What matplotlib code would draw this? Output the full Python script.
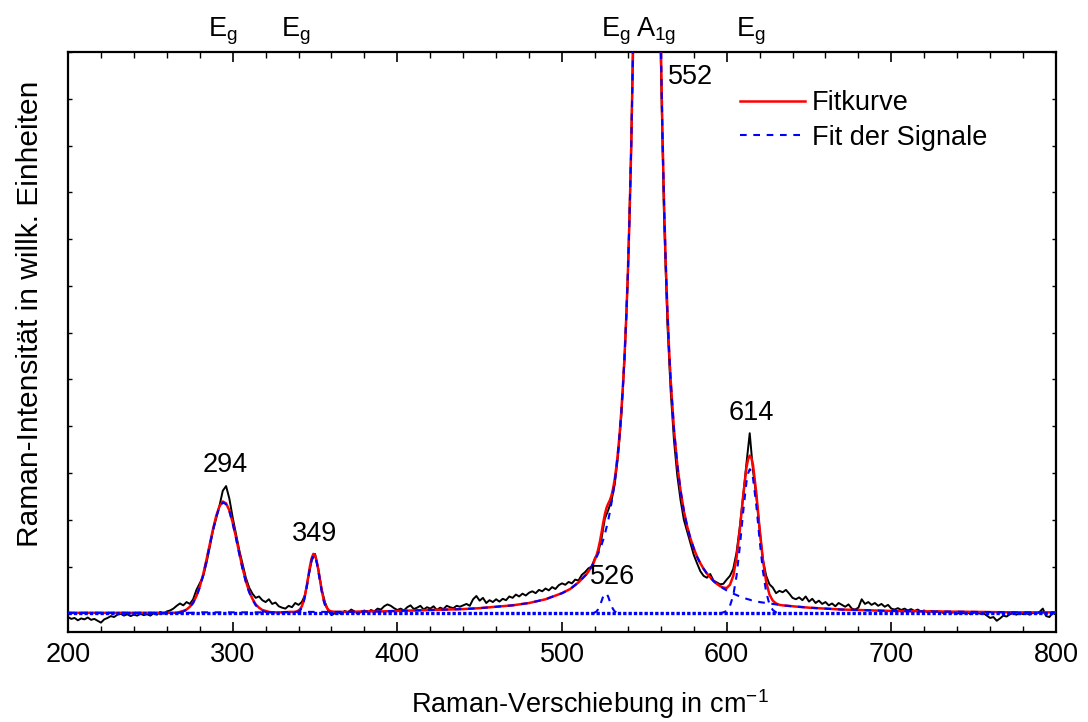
import numpy as np
import matplotlib
matplotlib.use('Agg')
import matplotlib.pyplot as plt
from matplotlib.lines import Line2D
from matplotlib.ticker import MultipleLocator, NullFormatter

plt.rcParams['font.family'] = ['Liberation Sans', 'DejaVu Sans']
plt.rcParams['mathtext.fontset'] = 'custom'
plt.rcParams['mathtext.rm'] = 'Liberation Sans'
plt.rcParams['mathtext.it'] = 'Liberation Sans:italic'

# measured spectrum, 2 cm^-1 steps from 200 to 800
meas_x = np.arange(200, 801, 2)
meas_y = [
    -0.08, -0.12, -0.10, -0.15, -0.11, -0.13, -0.09, -0.14, -0.12, -0.16,
    -0.20, -0.13, -0.10, -0.06, -0.08, -0.03, -0.01, -0.05, -0.02, -0.06,
    -0.03, -0.05, -0.01, -0.04, -0.02, -0.05, 0.00, -0.03, 0.03, -0.01,
    0.04, 0.06, 0.10, 0.16, 0.21, 0.17, 0.24, 0.20, 0.30, 0.50,
    0.64, 0.78, 1.06, 1.40, 1.76, 2.03, 2.30, 2.62, 2.72, 2.45,
    2.05, 1.70, 1.35, 1.05, 0.76, 0.55, 0.42, 0.33, 0.36, 0.28,
    0.24, 0.30, 0.20, 0.23, 0.15, 0.12, 0.10, 0.16, 0.13, 0.22,
    0.18, 0.24, 0.40, 0.78, 1.13, 1.27, 0.95, 0.52, 0.24, 0.06,
    -0.04, 0.00, 0.03, -0.02, 0.05, 0.02, 0.08, 0.04, -0.01, 0.03,
    0.06, 0.02, 0.07, 0.04, 0.10, 0.08, 0.15, 0.19, 0.16, 0.11,
    0.07, 0.10, 0.06, 0.13, 0.17, 0.09, 0.12, 0.16, 0.08, 0.13,
    0.10, 0.15, 0.07, 0.12, 0.09, 0.16, 0.13, 0.11, 0.16, 0.14,
    0.17, 0.20, 0.16, 0.30, 0.37, 0.27, 0.33, 0.22, 0.28, 0.24,
    0.30, 0.25, 0.31, 0.28, 0.36, 0.33, 0.40, 0.36, 0.42, 0.38,
    0.44, 0.47, 0.43, 0.50, 0.47, 0.53, 0.49, 0.56, 0.52, 0.60,
    0.64, 0.61, 0.67, 0.64, 0.72, 0.70, 0.82, 0.88, 0.96, 1.00,
    1.18, 1.30, 1.60, 2.02, 2.20, 2.40, 2.75, 3.35, 4.20, 5.45,
    7.20, 9.90, 14.0, 20.5, 30.0, 42.0, 47.0, 38.0, 26.0, 17.0,
    11.8, 8.4, 6.2, 4.75, 3.70, 2.95, 2.42, 2.00, 1.75, 1.50,
    1.25, 1.07, 0.90, 0.80, 0.76, 0.84, 0.70, 0.66, 0.62, 0.63,
    0.72, 0.80, 0.95, 1.30, 1.85, 2.50, 3.20, 3.85, 3.05, 2.50,
    1.80, 1.15, 0.80, 0.62, 0.55, 0.43, 0.48, 0.45, 0.50, 0.42,
    0.33, 0.30, 0.34, 0.28, 0.36, 0.25, 0.31, 0.22, 0.27, 0.20,
    0.24, 0.17, 0.21, 0.15, 0.22, 0.18, 0.14, 0.19, 0.10, 0.08,
    0.12, 0.30, 0.20, 0.24, 0.18, 0.22, 0.16, 0.20, 0.14, 0.18,
    0.10, 0.08, 0.11, 0.07, 0.10, 0.06, 0.09, 0.05, 0.08, 0.04,
    0.06, 0.02, 0.05, 0.01, 0.04, 0.03, 0.00, 0.03, 0.01, 0.02,
    -0.01, 0.02, 0.00, 0.03, -0.02, 0.01, 0.02, -0.01, 0.00, -0.05,
    -0.10, -0.08, -0.16, -0.11, -0.05, -0.07, -0.02, 0.00, -0.03, 0.01,
    -0.02, 0.00, -0.03, 0.01, -0.01, 0.03, 0.10, -0.06, -0.08, 0.01,
    -0.03,
]

# fit: sample points and the big 552 signal
fit_x = ([200, 210, 220, 230, 240, 250, 260, 264] + list(range(266, 326, 2))
         + [330, 335, 338] + list(range(339, 361)) + [362, 366, 370]
         + [380, 390, 400, 410, 420, 430, 440, 450, 460, 470, 480, 490,
            500, 505, 510, 515, 518]
         + list(range(519, 546)) + [546, 548, 550, 552, 554, 556, 558]
         + list(range(559, 567)) + list(range(568, 613, 2)) + [613, 614, 615]
         + list(range(616, 635, 2))
         + [640, 650, 660, 670, 680, 690, 700, 725, 750, 775, 800])
sig552 = ([0.01] * 8 + [0.01] * 7 + [0.02] * 23 + [0.02] + [0.03] * 27
          + [0.04, 0.04, 0.05, 0.06, 0.07, 0.08, 0.09, 0.11, 0.14, 0.17,
             0.22, 0.30, 0.43, 0.52, 0.66, 0.84, 1.00]
          + [1.06, 1.13, 1.20, 1.28, 1.37, 1.46, 1.57, 1.69, 1.83, 1.98,
             2.15, 2.35, 2.57, 2.82, 3.11, 3.45, 3.84, 4.31, 4.86, 5.51,
             6.31, 7.27, 8.46, 9.93, 11.78, 14.13, 17.11]
          + [20.9, 31.4, 43.9, 48.4, 39.1, 26.7, 17.8]
          + [14.67, 12.21, 10.27, 8.73, 7.49, 6.48, 5.66, 4.98]
          + [3.93, 3.18, 2.62, 2.19, 1.86, 1.60, 1.39, 1.21, 1.07, 0.95,
             0.85, 0.77, 0.69, 0.63, 0.58, 0.53, 0.49, 0.45, 0.42, 0.39,
             0.36, 0.34, 0.31]
          + [0.30, 0.29, 0.28]
          + [0.28, 0.26, 0.24, 0.23, 0.22, 0.21, 0.20, 0.19, 0.18, 0.17]
          + [0.15, 0.12, 0.10, 0.08, 0.07, 0.06, 0.05, 0.04, 0.03, 0.02, 0.02])

# the smaller signals
sig294_x = list(range(268, 324, 2))
sig294_y = [0.02, 0.04, 0.07, 0.13, 0.22, 0.36, 0.55, 0.80, 1.11, 1.44,
            1.77, 2.06, 2.27, 2.37, 2.33, 2.18, 1.92, 1.61, 1.27, 0.95,
            0.67, 0.45, 0.29, 0.17, 0.10, 0.05, 0.03, 0.01]
sig349_x = list(range(339, 361))
sig349_y = [0.01, 0.03, 0.06, 0.12, 0.22, 0.37, 0.56, 0.77, 0.99, 1.15, 1.24,
            1.21, 1.09, 0.90, 0.69, 0.48, 0.30, 0.18, 0.10, 0.05, 0.02, 0.01]
sig526_x = list(range(519, 535))
sig526_y = [0.00, 0.02, 0.04, 0.09, 0.16, 0.26, 0.36, 0.42, 0.42, 0.36,
            0.26, 0.16, 0.09, 0.04, 0.02, 0.00]
sig614_x = list(range(596, 613, 2)) + [613, 614, 615] + list(range(616, 633, 2))
sig614_y = [0.00, 0.02, 0.05, 0.16, 0.38, 0.80, 1.43, 2.16, 2.80,
            2.99, 3.08, 3.04,
            2.89, 2.31, 1.57, 0.91, 0.45, 0.19, 0.07, 0.02, 0.00]

peak_labels = ['294', '349', '526', '552', '614']
peak_label_pos = [(295.6, 3.16), (350, 1.69), (530.7, 0.77), (578.3, 11.47), (614.8, 4.29)]
mode_labels = [r'$\mathregular{E_g}$', r'$\mathregular{E_g}$', r'$\mathregular{E_g}$',
               r'$\mathregular{A_{1g}}$', r'$\mathregular{E_g}$']
mode_pos = [294.3, 338.5, 532.8, 557.0, 614.8]

# total fit curve = sum of signals
fit_x = np.array(fit_x)
fit_total = np.array(sig552, dtype=float)
for sx, sy in [(sig294_x, sig294_y), (sig349_x, sig349_y),
               (sig526_x, sig526_y), (sig614_x, sig614_y)]:
    fit_total[np.searchsorted(fit_x, sx)] += sy

fig, ax = plt.subplots(figsize=(10.88, 7.22), dpi=100)
fig.subplots_adjust(left=68 / 1088, right=1056 / 1088, top=1 - 52 / 722, bottom=1 - 632 / 722)

dash = (0, (3.2, 3.2))
ax.plot(meas_x, meas_y, color='black', lw=1.4, zorder=2)
ax.plot(fit_x, fit_total, color='red', lw=1.8, zorder=3)
ax.plot([200, 800], [0, 0], color='blue', lw=2.4, ls=(0, (1, 0.6)), zorder=4)
ax.plot(fit_x, sig552, color='blue', lw=1.5, ls=dash, zorder=4)
for sx, sy in [(sig294_x, sig294_y), (sig349_x, sig349_y),
               (sig526_x, sig526_y), (sig614_x, sig614_y)]:
    ax.plot(sx, sy, color='blue', lw=1.5, ls=dash, zorder=4)

for lab, (px, py) in zip(peak_labels, peak_label_pos):
    ax.text(px, py, lab, fontsize=19.5, ha='center', va='center', zorder=5)

trans = ax.get_xaxis_transform()
for lab, px in zip(mode_labels, mode_pos):
    ax.text(px, 1.026, lab, fontsize=19.5, ha='center', va='baseline', transform=trans)

ax.set_xlim(200, 800)
ax.set_ylim(-0.4, 12)
ax.xaxis.set_major_locator(MultipleLocator(100))
ax.xaxis.set_minor_locator(MultipleLocator(20))
ax.yaxis.set_major_locator(MultipleLocator(1))
ax.yaxis.set_major_formatter(NullFormatter())
ax.tick_params(axis='x', which='major', direction='in', length=7, width=1.2,
               labelsize=19.5, pad=7, top=True)
ax.tick_params(axis='x', which='minor', direction='in', length=4.5, width=1.0, top=True)
ax.tick_params(axis='y', which='major', direction='in', length=3, width=1.0, right=True)
for s in ax.spines.values():
    s.set_linewidth(1.6)

fig.text(590 / 1088, 1 - 704 / 722, r'Raman-Verschiebung in cm$\mathregular{^{-1}}$',
         fontsize=19.5, ha='center', va='center')
fig.text(30 / 1088, 1 - 314 / 722, 'Raman-Intensität in willk. Einheiten',
         fontsize=21.5, ha='center', va='center', rotation=90)

handles = [Line2D([], [], color='red', lw=1.8),
           Line2D([], [], color='blue', lw=1.5, ls=dash)]
ax.legend(handles, ['Fitkurve', 'Fit der Signale'], loc='upper left',
          bbox_to_anchor=(740 / 1088, 1 - 90 / 722), bbox_transform=fig.transFigure,
          frameon=False, fontsize=19.5, handlelength=2.4, handletextpad=0.25,
          borderpad=0, borderaxespad=0, labelspacing=0.32)

fig.savefig('out.png', dpi=100)
